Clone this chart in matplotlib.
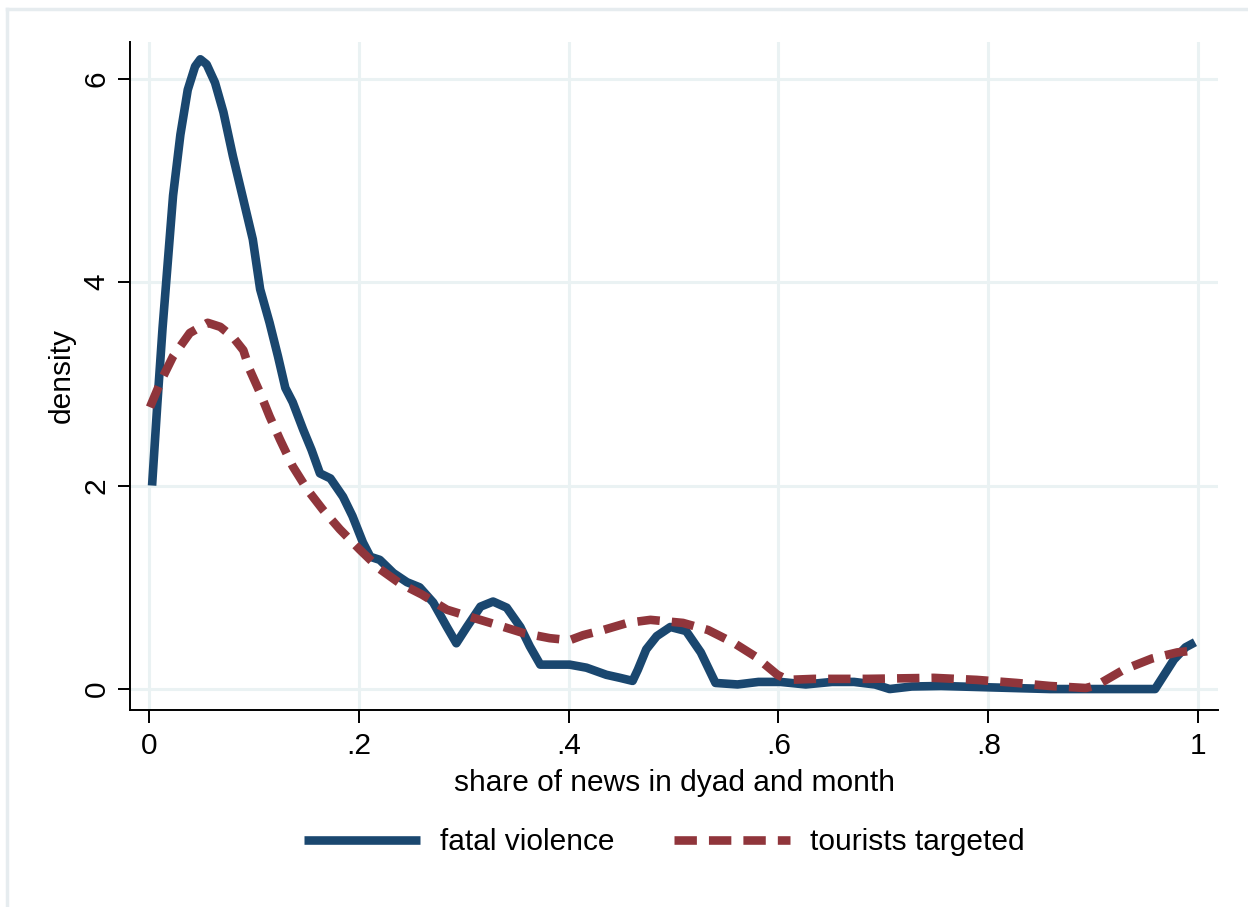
import matplotlib.pyplot as plt
from matplotlib.lines import Line2D

plt.rcParams['font.family'] = ['Liberation Sans', 'DejaVu Sans']

# kernel density estimates
fatal_x = [0.003, 0.008, 0.013, 0.018, 0.023, 0.030, 0.037, 0.044, 0.049, 0.055,
           0.063, 0.071, 0.080, 0.090, 0.099, 0.106, 0.115, 0.123, 0.130, 0.137,
           0.147, 0.155, 0.163, 0.173, 0.185, 0.194, 0.204, 0.211, 0.220, 0.233,
           0.246, 0.258, 0.271, 0.284, 0.293, 0.303, 0.316, 0.328, 0.341, 0.354,
           0.363, 0.373, 0.385, 0.401, 0.417, 0.436, 0.449, 0.461, 0.466, 0.474,
           0.484, 0.497, 0.512, 0.526, 0.540, 0.561, 0.581, 0.602, 0.626, 0.651,
           0.672, 0.692, 0.706, 0.727, 0.755, 0.790, 0.824, 0.859, 0.959, 0.977,
           0.988, 0.997]
fatal_y = [2.00, 2.80, 3.55, 4.20, 4.85, 5.45, 5.89, 6.12, 6.19, 6.14,
           5.96, 5.67, 5.24, 4.81, 4.42, 3.93, 3.60, 3.27, 2.96, 2.82,
           2.55, 2.35, 2.12, 2.07, 1.89, 1.70, 1.44, 1.30, 1.27, 1.14,
           1.05, 1.00, 0.85, 0.61, 0.45, 0.61, 0.81, 0.86, 0.80, 0.61,
           0.42, 0.24, 0.24, 0.24, 0.21, 0.14, 0.11, 0.08, 0.19, 0.39,
           0.52, 0.61, 0.57, 0.36, 0.06, 0.045, 0.07, 0.07, 0.045, 0.07,
           0.07, 0.045, 0.00, 0.025, 0.03, 0.02, 0.01, 0.00, 0.00, 0.29,
           0.41, 0.46]

tourist_x = [0.001, 0.012, 0.023, 0.039, 0.056, 0.068, 0.080, 0.090, 0.096, 0.106,
             0.115, 0.125, 0.137, 0.151, 0.166, 0.182, 0.201, 0.220, 0.239, 0.260,
             0.284, 0.306, 0.332, 0.357, 0.382, 0.401, 0.414, 0.433, 0.456, 0.478,
             0.509, 0.533, 0.558, 0.578, 0.599, 0.609, 0.634, 0.685, 0.748, 0.789,
             0.827, 0.859, 0.893, 0.904, 0.929, 0.956, 0.980, 0.997]
tourist_y = [2.77, 3.04, 3.27, 3.50, 3.60, 3.56, 3.46, 3.33, 3.14, 2.91,
             2.68, 2.45, 2.19, 1.96, 1.76, 1.57, 1.37, 1.18, 1.04, 0.93,
             0.78, 0.71, 0.63, 0.55, 0.50, 0.48, 0.53, 0.58, 0.65, 0.68,
             0.65, 0.58, 0.45, 0.32, 0.14, 0.09, 0.10, 0.10, 0.11, 0.09,
             0.06, 0.03, 0.01, 0.04, 0.19, 0.30, 0.36, 0.38]

x_ticks = [0, 0.2, 0.4, 0.6, 0.8, 1]
x_labels = ['0', '.2', '.4', '.6', '.8', '1']
y_ticks = [0, 2, 4, 6]

navy = '#1a476f'
maroon = '#90353b'
grid_col = '#eaf2f3'

fig = plt.figure(figsize=(12.48, 9.07), dpi=100)
ax = fig.add_axes([0.1042, 0.2172, 0.8718, 0.7365])

ax.plot(fatal_x, fatal_y, color=navy, lw=6.2, solid_capstyle='butt',
        solid_joinstyle='round', label='fatal violence')
ax.plot(tourist_x, tourist_y, color=maroon, lw=6.2, dashes=(2.6, 1.4),
        dash_capstyle='butt', label='tourists targeted')

ax.set_xlim(-0.018, 1.019)
ax.set_ylim(-0.206, 6.36)
ax.set_xticks(x_ticks)
ax.set_xticklabels(x_labels)
ax.set_yticks(y_ticks)
ax.grid(True, color=grid_col, lw=2.2)
ax.set_axisbelow(True)

for s in ['top', 'right']:
    ax.spines[s].set_visible(False)
for s in ['left', 'bottom']:
    ax.spines[s].set_linewidth(1.4)

ax.tick_params(labelsize=21.5, length=9, width=1.4, pad=7)
ax.tick_params(axis='y', pad=5)
plt.setp(ax.get_yticklabels(), rotation=90, va='center')

ax.set_xlabel('share of news in dyad and month', fontsize=21.5, labelpad=6)
ax.set_ylabel('density', fontsize=21.5, labelpad=5)

fig.legend(loc='center', bbox_to_anchor=(0.532, 0.0717), ncol=2, frameon=False,
           fontsize=21.5, handlelength=3.9, handletextpad=0.65, columnspacing=2.0)

# outer frame (light border cut by the image edges)
fig.add_artist(Line2D([7 / 1248, 7 / 1248], [0, 1 - 9 / 907], color='#e6ecef',
                      lw=2.5, transform=fig.transFigure))
fig.add_artist(Line2D([7 / 1248, 1], [1 - 9 / 907, 1 - 9 / 907], color='#e6ecef',
                      lw=2.5, transform=fig.transFigure))

fig.savefig('out.png', dpi=100)
